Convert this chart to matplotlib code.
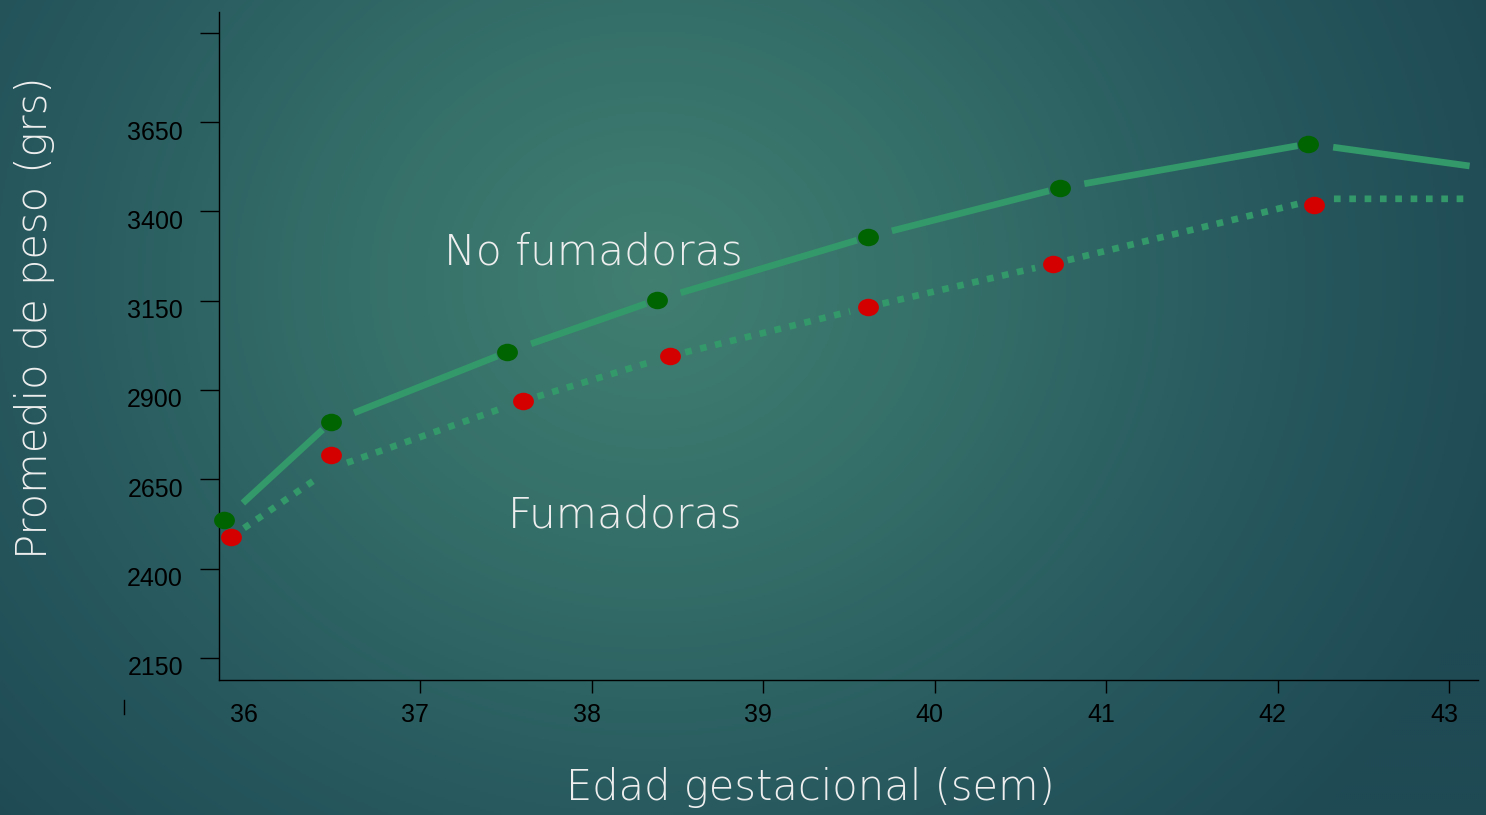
import numpy as np
import matplotlib
matplotlib.use('Agg')
import matplotlib.pyplot as plt
from matplotlib.path import Path
from matplotlib.lines import Line2D
from matplotlib.transforms import Affine2D, ScaledTranslation
from matplotlib.colors import LinearSegmentedColormap

#%% Datos
sem_no_fum = [35.86, 36.48, 37.51, 38.38, 39.61, 40.73, 42.18]
peso_no_fum = [2536, 2810, 3006, 3152, 3328, 3465, 3589]
sem_fum = [35.90, 36.48, 37.60, 38.46, 39.61, 40.69, 42.21]
peso_fum = [2489, 2718, 2869, 2995, 3132, 3253, 3418]

# trazos de las lineas (no pasan exacto por los puntos)
linea_no_fum_x = sem_no_fum + [43.12]
linea_no_fum_y = peso_no_fum + [3527]
linea_fum_x = [35.90, 36.49, 37.60, 38.46, 39.61, 40.69, 42.24, 43.12]
linea_fum_y = [2489, 2682, 2869, 2995, 3132, 3253, 3435, 3435]

x_ticks = [36, 37, 38, 39, 40, 41, 42, 43]
y_ticks = [2150, 2400, 2650, 2900, 3150, 3400, 3650, 3900]
y_labels = ['2150', '2400', '2650', '2900', '3150', '3400', '3650', '']

LINE_COLOR = '#33996a'
FONT_TXT = 'DejaVu Sans'
TXT_COLOR = '#eeeeee'

#%% Figura y fondo
W, H = 1486, 815
fig = plt.figure(figsize=(W / 100, H / 100), dpi=100)

yy, xx = np.mgrid[0:H:2, 0:W:2]
d = np.sqrt(((xx - 650) / 900.0) ** 2 + ((yy - 280) / 800.0) ** 2)
d = np.clip(d, 0, 1)
cmap = LinearSegmentedColormap.from_list('fondo', ['#417f71', '#356f69', '#285a5f', '#1f4a54'])
bg = fig.add_axes([0, 0, 1, 1], zorder=-1)
bg.imshow(d, cmap=cmap, vmin=0, vmax=1, extent=[0, 1, 0, 1], aspect='auto', origin='upper')
bg.axis('off')

ax = fig.add_axes([219 / W, 1 - 680 / H, (1478 - 219) / W, (680 - 12) / H])
ax.set_facecolor('none')
ax.set_xlim(35.828, 43.169)
ax.set_ylim(2088, 3958)

#%% Lineas con huecos junto a los puntos
def tramo(xs, ys, gap_a, gap_b, ls):
    n = len(xs)
    for i in range(n - 1):
        gb = 0 if i == n - 2 else gap_b
        ax.annotate('', xy=(xs[i + 1], ys[i + 1]), xytext=(xs[i], ys[i]),
                    arrowprops=dict(arrowstyle='-', shrinkA=gap_a, shrinkB=gb,
                                    lw=4.8, color=LINE_COLOR, linestyle=ls,
                                    capstyle='butt'),
                    annotation_clip=False, zorder=2)

tramo(linea_no_fum_x, linea_no_fum_y, 18, 8, '-')
tramo(linea_fum_x, linea_fum_y, 11, 13, (0, (1.0, 1.3)))

# marcadores elipticos
elipse = Path.unit_circle().transformed(Affine2D().scale(1.0, 0.84))
ax.plot(sem_no_fum, peso_no_fum, ls='none', marker=elipse, ms=15,
        mfc='#006400', mec='none', zorder=3, clip_on=False)
ax.plot(sem_fum, peso_fum, ls='none', marker=elipse, ms=15,
        mfc='#d40000', mec='none', zorder=3, clip_on=False)

#%% Ejes
for s in ['top', 'right']:
    ax.spines[s].set_visible(False)
for s in ['left', 'bottom']:
    ax.spines[s].set_color('black')
    ax.spines[s].set_linewidth(1.0)

ax.set_yticks(y_ticks)
ax.set_yticklabels(y_labels, fontfamily='Liberation Sans', fontsize=18, color='black')
ax.set_xticks(x_ticks)
ax.set_xticklabels([str(t) for t in x_ticks], fontfamily='Liberation Sans',
                   fontsize=18, color='black')
ax.tick_params(axis='y', length=14, width=1, pad=12, colors='black')
ax.tick_params(axis='x', length=9.5, width=1, pad=7, colors='black')
ax.xaxis.get_major_ticks()[0].tick1line.set_visible(False)

for lbl in ax.get_yticklabels():
    lbl.set_transform(lbl.get_transform() + ScaledTranslation(0, -8 / 100, fig.dpi_scale_trans))
for lbl in ax.get_xticklabels():
    lbl.set_transform(lbl.get_transform() + ScaledTranslation(-5 / 100, 0, fig.dpi_scale_trans))

# marca suelta debajo del eje
fig.add_artist(Line2D([124 / W, 124 / W], [1 - 700 / H, 1 - 714 / H], color='black', lw=1))

#%% Textos
fig.text(35 / W, 1 - 318 / H, 'Promedio de peso (grs)', rotation=90, ha='center',
         va='center', fontsize=30, color=TXT_COLOR, fontfamily=FONT_TXT, fontweight='light')
fig.text(810 / W, 1 - 787 / H, 'Edad gestacional (sem)', ha='center', va='center',
         fontsize=30, color=TXT_COLOR, fontfamily=FONT_TXT, fontweight='light')
ax.text(38.88, 3286, 'No fumadoras', ha='right', va='center', fontsize=30.5,
        color=TXT_COLOR, fontfamily=FONT_TXT, fontweight='light')
ax.text(38.88, 2550, 'Fumadoras', ha='right', va='center', fontsize=30.5,
        color=TXT_COLOR, fontfamily=FONT_TXT, fontweight='light')

fig.savefig('out.png', dpi=100)
